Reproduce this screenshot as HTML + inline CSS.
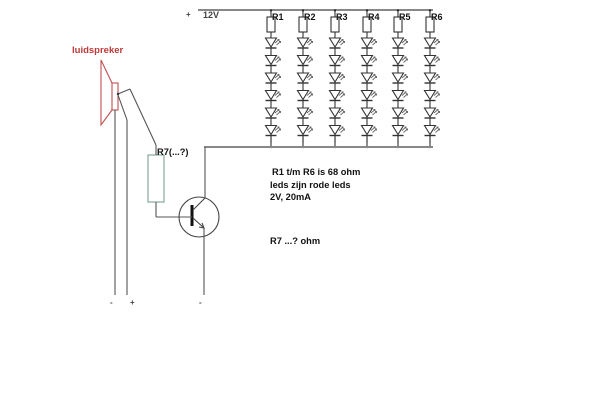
<!DOCTYPE html>
<html><head><meta charset="utf-8"><style>
html,body{margin:0;padding:0;background:#fff;}
svg{display:block;}
text{font-family:"Liberation Sans",Arial,sans-serif;font-weight:bold;}
</style></head><body>
<svg width="600" height="409" viewBox="0 0 600 409" xmlns="http://www.w3.org/2000/svg">
<rect width="600" height="409" fill="#fff"/>
<defs>
<g id="led">
  <polygon points="-5.5,0 5.5,0 0,9" fill="none" stroke="#333" stroke-width="1.1"/>
  <line x1="-5.5" y1="10" x2="5.5" y2="10" stroke="#333" stroke-width="1.4"/>
  <line x1="0" y1="9" x2="0" y2="17.5" stroke="#333" stroke-width="1.1"/>
  <line x1="4" y1="5" x2="8" y2="1.5" stroke="#666" stroke-width="0.9"/>
  <line x1="5.5" y1="7" x2="9.5" y2="3.5" stroke="#666" stroke-width="0.9"/>
  <polyline points="6.5,1.5 8,1.5 8,3" fill="none" stroke="#666" stroke-width="0.9"/>
  <polyline points="8,3.5 9.5,3.5 9.5,5" fill="none" stroke="#666" stroke-width="0.9"/>
</g>
<g id="col">
  <line x1="0" y1="10" x2="0" y2="17" stroke="#333" stroke-width="1.1"/>
  <rect x="-4" y="17" width="8" height="15" fill="none" stroke="#333" stroke-width="1.1"/>
  <line x1="0" y1="32" x2="0" y2="38" stroke="#333" stroke-width="1.1"/>
  <use href="#led" y="38"/>
  <use href="#led" y="55.5"/>
  <use href="#led" y="73"/>
  <use href="#led" y="90.5"/>
  <use href="#led" y="108"/>
  <use href="#led" y="125.5"/>
  <line x1="0" y1="135" x2="0" y2="147" stroke="#333" stroke-width="1.1"/>
  <circle cx="0" cy="10.5" r="1.2" fill="#333"/>
  <circle cx="0" cy="147" r="1.2" fill="#333"/>
</g>
</defs>

<!-- top rail -->
<line x1="198" y1="10" x2="433" y2="10" stroke="#888" stroke-width="2"/>
<text x="186" y="17" font-size="8" fill="#444">+</text>
<text x="203" y="18" font-size="9" fill="#444">12V</text>

<!-- columns -->
<use href="#col" x="271"/>
<use href="#col" x="303"/>
<use href="#col" x="335"/>
<use href="#col" x="367"/>
<use href="#col" x="398"/>
<use href="#col" x="430"/>
<text x="272" y="20" font-size="9" fill="#111">R1</text>
<text x="304" y="20" font-size="9" fill="#111">R2</text>
<text x="336" y="20" font-size="9" fill="#111">R3</text>
<text x="368" y="20" font-size="9" fill="#111">R4</text>
<text x="399" y="20" font-size="9" fill="#111">R5</text>
<text x="431" y="20" font-size="9" fill="#111">R6</text>

<!-- bottom rail -->
<line x1="204" y1="147" x2="433" y2="147" stroke="#888" stroke-width="2"/>
<line x1="205" y1="147" x2="205" y2="198" stroke="#555" stroke-width="1.1"/>

<!-- transistor -->
<circle cx="199" cy="217" r="20" fill="none" stroke="#444" stroke-width="1.1"/>
<line x1="192" y1="205" x2="192" y2="226" stroke="#111" stroke-width="3"/>
<line x1="193" y1="210" x2="205" y2="198" stroke="#444" stroke-width="1.1"/>
<line x1="193" y1="218" x2="204" y2="228" stroke="#444" stroke-width="1.1"/>
<polyline points="199,227 204,228 202,223" fill="none" stroke="#444" stroke-width="1.1"/>
<line x1="204" y1="228" x2="204" y2="295" stroke="#555" stroke-width="1.1"/>
<line x1="156" y1="217" x2="192" y2="217" stroke="#555" stroke-width="1.1"/>

<!-- R7 -->
<rect x="148" y="155" width="16" height="47" fill="none" stroke="#7fa095" stroke-width="1.1"/>
<line x1="156" y1="202" x2="156" y2="217" stroke="#555" stroke-width="1.1"/>
<line x1="156" y1="145" x2="156" y2="155" stroke="#555" stroke-width="1.1"/>
<line x1="156" y1="145" x2="130" y2="89" stroke="#555" stroke-width="1.1"/>
<line x1="130" y1="89" x2="118" y2="94" stroke="#555" stroke-width="1.1"/>
<text x="157" y="155" font-size="9.3" fill="#111">R7(...?)</text>

<!-- speaker -->
<polyline points="112,83 101,60 101,125 112,110" fill="none" stroke="#c05050" stroke-width="1.1"/>
<rect x="112" y="83" width="6" height="27" fill="none" stroke="#c05050" stroke-width="1.1"/>
<circle cx="118" cy="94" r="1.2" fill="#333"/>
<line x1="115" y1="110" x2="115" y2="295" stroke="#555" stroke-width="1.1"/>
<line x1="118" y1="95" x2="127" y2="120" stroke="#555" stroke-width="1.1"/>
<line x1="127" y1="120" x2="127" y2="295" stroke="#555" stroke-width="1.1"/>
<text x="72" y="53" font-size="9.5" fill="#c03838">luidspreker</text>

<!-- bottom markers -->
<text x="110" y="305" font-size="8" fill="#444">-</text>
<text x="130" y="305" font-size="8" fill="#444">+</text>
<text x="199" y="305" font-size="8" fill="#444">-</text>

<!-- notes -->
<text x="272" y="175" font-size="9.3" fill="#111">R1 t/m R6 is 68 ohm</text>
<text x="270" y="188" font-size="9.3" fill="#111">leds zijn rode leds</text>
<text x="270" y="200" font-size="9.3" fill="#111">2V, 20mA</text>
<text x="270" y="244" font-size="9.3" fill="#111">R7 ...? ohm</text>
</svg>
</body></html>
